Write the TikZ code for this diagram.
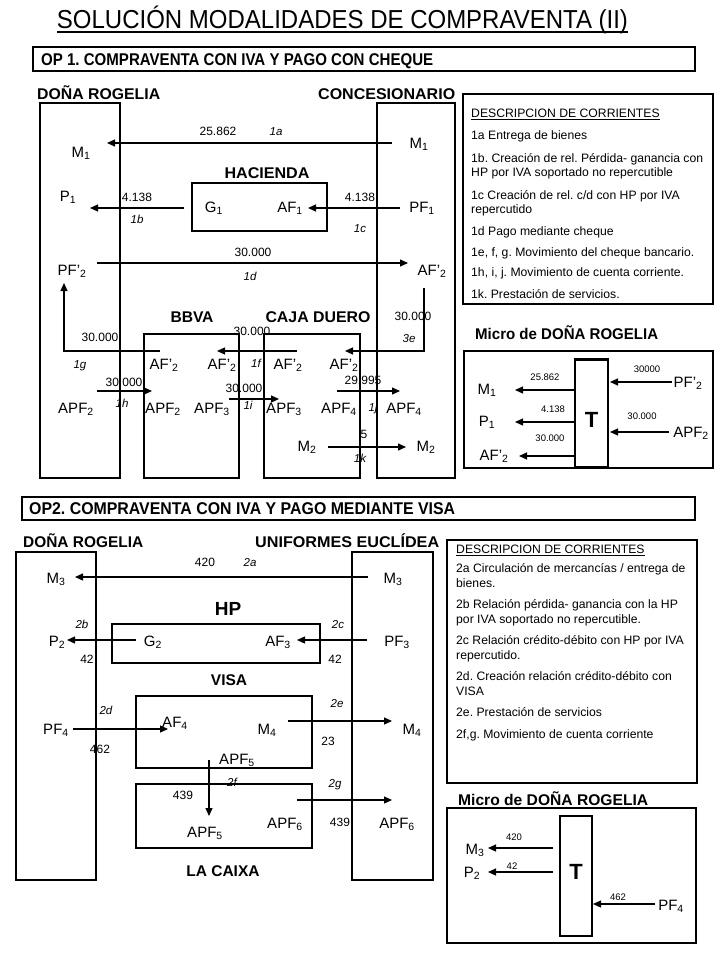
\documentclass[tikz,border=0pt]{standalone}
\usepackage{fontspec}
\setmainfont{Liberation Sans}
\usepackage{graphicx}
\usetikzlibrary{calc,arrows.meta}
\frenchspacing
\newcommand\fitw[2]{\resizebox{#1pt}{\height}{#2}}
\newcommand\sbs[1]{\textsubscript{#1}}
\tikzset{
 bigbox/.style={draw, line width=2.8pt, inner sep=0pt, outer sep=0pt},
 banner/.style={draw, line width=2.2pt, inner sep=0pt, outer sep=0pt, anchor=north west},
 lab/.style={font=\fontsize{15}{15}\selectfont, inner sep=0pt, text height=10.7pt, text depth=0pt},
 num/.style={font=\fontsize{12}{12}\selectfont, inner sep=0pt, text height=8.6pt, text depth=0pt},
 tag/.style={font=\fontsize{11.5}{11.5}\selectfont\itshape, inner sep=0pt, text height=8.2pt, text depth=0pt},
 hd/.style={font=\fontsize{15.5}{15.5}\selectfont\bfseries, inner sep=0pt, text height=11.1pt, text depth=0pt},
 bhd/.style={font=\fontsize{17}{17}\selectfont\bfseries, inner sep=0pt, text height=12.2pt, text depth=0pt, anchor=west},
 sml/.style={font=\fontsize{9.5}{9.5}\selectfont, inner sep=0pt, text height=6.8pt, text depth=0pt},
 dline/.style={font=\fontsize{12.2}{12.2}\selectfont\frenchspacing, inner sep=0pt, text height=8.8pt, text depth=0pt, anchor=west},
 bigT/.style={font=\fontsize{22}{22}\selectfont\bfseries, inner sep=0pt, text height=15.8pt, text depth=0pt},
 flow/.style={line width=1.2pt, -{Triangle[length=8pt,width=7pt]}},
}
\begin{document}
\begin{tikzpicture}[x=1pt,y=-1pt]
\useasboundingbox[fill=white] (0,0) rectangle (720,960);

% ---------- title
\node[font=\fontsize{26}{26}\selectfont, inner sep=0pt, text height=18.6pt, text depth=0pt] (title) at (342.5,19.5) {\fitw{571}{SOLUCIÓN MODALIDADES DE COMPRAVENTA (II)}};
\draw[line width=1.2pt] ([yshift=-3pt]title.south west) -- ([yshift=-3pt]title.south east);

% ---------- OP1 banner
\node[banner, minimum width=662pt, minimum height=24pt] (op1box) at (33,47) {};
\node[bhd] (op1t) at (41,59) {\fitw{392}{OP 1. COMPRAVENTA CON IVA Y PAGO CON CHEQUE}};

\node[hd, anchor=west] (drA) at (37,94) {\fitw{123}{DOÑA ROGELIA}};
\node[hd, anchor=west] (concA) at (318,94) {\fitw{137}{CONCESIONARIO}};

\node[bigbox, minimum width=80pt, minimum height=375pt] (drboxA) at (80,290.5) {};
\node[bigbox, minimum width=78pt, minimum height=375pt] (concbox) at (416,290.5) {};

\node[lab] (m1l) at (81,152) {M\sbs{1}};
\node[lab] (m1r) at (419,143) {M\sbs{1}};
\draw[flow] ($(m1r)+(-27,0)$) -- ($(m1l)+(26,-9)$);
\node[num] (n1a) at (218,131) {25.862};
\node[tag] (t1a) at (276,131) {1a};

\node[hd] (hac) at (267,173) {\fitw{85}{HACIENDA}};
\node[bigbox, minimum width=135pt, minimum height=48pt] (hacbox) at (259.5,207) {};
\node[lab] (g1) at (214,207) {G\sbs{1}};
\node[lab] (af1) at (290,207) {AF\sbs{1}};
\node[lab] (p1l) at (68,196) {P\sbs{1}};
\node[lab] (pf1) at (422,207) {PF\sbs{1}};
\draw[flow] ($(g1)+(-30,1)$) -- ($(p1l)+(22,12)$);
\draw[flow] ($(pf1)+(-22,1)$) -- ($(af1)+(18,1)$);
\node[num] (n1b) at (137,197) {4.138};
\node[tag] (t1b) at (137,219) {1b};
\node[num] (n1c) at (360,197) {4.138};
\node[tag] (t1c) at (360,228) {1c};

\node[lab] (pf2l) at (72,270) {PF’\sbs{2}};
\node[lab] (af2r) at (432,270) {AF’\sbs{2}};
\draw[flow] ($(pf2l)+(25,-7)$) -- ($(af2r)+(-24,-7)$);
\node[num] (n1d) at (253,252) {30.000};
\node[tag] (t1d) at (250,276) {1d};

\node[hd] (bbva) at (192,317) {\fitw{43}{BBVA}};
\node[hd] (cajad) at (318,317) {\fitw{105}{CAJA DUERO}};
\node[bigbox, minimum width=95pt, minimum height=144pt] (bbvabox) at (191.5,406) {};
\node[bigbox, minimum width=96pt, minimum height=144pt] (cdbox) at (312,406) {};

\node[lab] (af2a) at (164,364) {AF’\sbs{2}};
\node[lab] (af2b) at (222,364) {AF’\sbs{2}};
\node[lab] (af2c) at (288,364) {AF’\sbs{2}};
\node[lab] (af2d) at (344,364) {AF’\sbs{2}};

\draw[flow] ($(af2r)+(-8,18)$) |- ($(af2d)+(1,-13)$);
\node[num] (n3e) at (413,316) {30.000};
\node[tag] (t3e) at (409,338) {3e};
\draw[flow] ($(af2c)+(9,-13)$) -- ($(af2b)+(-5,-13)$);
\node[num] (n1f) at (252,331) {30.000};
\node[tag] (t1f) at (256,363) {1f};
\draw[flow] ($(af2a)+(-4,-13)$) -| ($(pf2l)+(-8,13)$);
\node[num] (n1g) at (100,337) {30.000};
\node[tag] (t1g) at (80,364) {1g};

\node[lab] (apf2l) at (76,408) {APF\sbs{2}};
\node[lab] (apf2b) at (163,408) {APF\sbs{2}};
\node[lab] (apf3b) at (212,408) {APF\sbs{3}};
\node[lab] (apf3c) at (284,408) {APF\sbs{3}};
\node[lab] (apf4c) at (339,408) {APF\sbs{4}};
\node[lab] (apf4r) at (404,408) {APF\sbs{4}};
\draw[flow] ($(apf2l)+(21,-17)$) -- ($(apf2b)+(-11,-17)$);
\node[num] (n1h) at (124,382) {30.000};
\node[tag] (t1h) at (122,403) {1h};
\draw[flow] ($(apf3b)+(17,-9)$) -- ($(apf3c)+(-5,-9)$);
\node[num] (n1i) at (244,388) {30.000};
\node[tag] (t1i) at (248,405) {1i};
\draw[flow] ($(apf4c)+(-2,-17)$) -- ($(apf4r)+(-4,-17)$);
\node[num] (n1j) at (363,380) {29.995};
\node[tag] (t1j) at (373,407) {1j};

\node[lab] (m2c) at (307,446) {M\sbs{2}};
\node[lab] (m2r) at (426,446) {M\sbs{2}};
\draw[flow] ($(m2c)+(21,1)$) -- ($(m2r)+(-20,1)$);
\node[num] (n1k) at (364,434) {5};
\node[tag] (t1k) at (360,458) {1k};

% ---------- description 1
\node[bigbox, anchor=north west, minimum width=250pt, minimum height=210pt] (desc1) at (463,94) {};
\node[dline] (d1h) at (471,113) {\underline{DESCRIPCION DE CORRIENTES}};
\node[dline] (d1a) at (471,135) {1a Entrega de bienes};
\node[dline] (d1b) at (471,158) {1b. Creación de rel. Pérdida- ganancia con};
\node[dline] (d1b2) at (471,172) {HP por IVA soportado no repercutible};
\node[dline] (d1c) at (471,195) {1c Creación de rel. c/d con HP por IVA};
\node[dline] (d1c2) at (471,209) {repercutido};
\node[dline] (d1d) at (471,231) {1d Pago mediante cheque};
\node[dline] (d1e) at (471,252) {1e, f, g. Movimiento del cheque bancario.};
\node[dline] (d1f) at (471,272) {1h, i, j. Movimiento de cuenta corriente.};
\node[dline] (d1g) at (471,294) {1k. Prestación de servicios.};

% ---------- micro 1
\node[hd, anchor=west] (mic1) at (475,334) {\fitw{183}{Micro de DOÑA ROGELIA}};
\node[bigbox, anchor=north west, minimum width=249pt, minimum height=117pt] (mic1box) at (464,351) {};
\node[bigbox, minimum width=33pt, minimum height=108pt] (tbox1) at (591.5,413.5) {};
\node[bigT] (tlab1) at (591.5,420) {T};
\node[lab] (m1m) at (487,389) {M\sbs{1}};
\node[lab] (p1m) at (487,421) {P\sbs{1}};
\node[lab] (af2m) at (494,455) {AF’\sbs{2}};
\node[lab] (pf2m) at (688,382) {PF’\sbs{2}};
\node[lab] (apf2m) at (691,432) {APF\sbs{2}};
\draw[flow] ($(tbox1)+(-16.5,-23.5)$) -- ($(m1m)+(28,1)$);
\draw[flow] ($(tbox1)+(-16.5,8.5)$) -- ($(p1m)+(28,1)$);
\draw[flow] ($(tbox1)+(-16.5,42.5)$) -- ($(af2m)+(25,1)$);
\draw[flow] ($(pf2m)+(-16,0)$) -- ($(tbox1)+(18.5,-31.5)$);
\draw[flow] ($(apf2m)+(-22,0)$) -- ($(tbox1)+(18.5,18.5)$);
\node[sml] (nm1) at (545,377) {25.862};
\node[sml] (nm2) at (553,409) {4.138};
\node[sml] (nm3) at (550,438) {30.000};
\node[sml] (nm4) at (647,369) {30000};
\node[sml] (nm5) at (642,416) {30.000};

% ---------- OP2 banner
\node[banner, minimum width=673pt, minimum height=23pt] (op2box) at (22,497) {};
\node[bhd] (op2t) at (29,508.5) {\fitw{426}{OP2. COMPRAVENTA CON IVA Y PAGO MEDIANTE VISA}};

\node[hd, anchor=west] (drB) at (23,542) {\fitw{120}{DOÑA ROGELIA}};
\node[hd, anchor=west] (ueB) at (255,542) {\fitw{184}{UNIFORMES EUCLÍDEA}};
\node[bigbox, minimum width=80pt, minimum height=328pt] (drboxB) at (56,716) {};
\node[bigbox, minimum width=81pt, minimum height=328pt] (uebox) at (392.5,716) {};

\node[lab] (m3l) at (56,578) {M\sbs{3}};
\node[lab] (m3r) at (393,578) {M\sbs{3}};
\draw[flow] ($(m3r)+(-25,-1)$) -- ($(m3l)+(19,-1)$);
\node[num] (n2a) at (205,562) {420};
\node[tag] (t2a) at (250,562) {2a};

\node[font=\fontsize{19}{19}\selectfont\bfseries, inner sep=0pt, text height=13.6pt, text depth=0pt] (hp) at (228,609) {HP};
\node[bigbox, minimum width=208pt, minimum height=39pt] (hpbox) at (216,643.5) {};
\node[lab] (g2) at (153,641) {G\sbs{2}};
\node[lab] (af3) at (278,641) {AF\sbs{3}};
\node[lab] (p2l) at (57,641) {P\sbs{2}};
\node[lab] (pf3) at (397,641) {PF\sbs{3}};
\draw[flow] ($(g2)+(-17,-1)$) -- ($(p2l)+(10,-1)$);
\draw[flow] ($(pf3)+(-30,-1)$) -- ($(af3)+(19,-1)$);
\node[tag] (t2b) at (82,624) {2b};
\node[tag] (t2c) at (338,624) {2c};
\node[num] (n2b) at (87,659) {42};
\node[num] (n2c) at (335,659) {42};

\node[hd] (visa) at (229,680) {VISA};
\node[bigbox, minimum width=176pt, minimum height=72pt] (visabox) at (224,732) {};
\node[bigbox, minimum width=176pt, minimum height=64pt] (caixabox) at (224,816) {};
\node[hd] (caixa) at (223,871) {LA CAIXA};

\node[lab] (pf4) at (56,729) {PF\sbs{4}};
\node[lab] (af4) at (175,722) {AF\sbs{4}};
\node[lab] (m4v) at (267,729) {M\sbs{4}};
\node[lab] (m4r) at (412,729) {M\sbs{4}};
\node[lab] (apf5v) at (237,759) {APF\sbs{5}};
\node[lab] (apf5c) at (205,832) {APF\sbs{5}};
\node[lab] (apf6c) at (285,823) {APF\sbs{6}};
\node[lab] (apf6r) at (397,823) {APF\sbs{6}};

\draw[flow] ($(pf4)+(17,0)$) -- ($(af4)+(-7,7)$);
\node[tag] (t2d) at (106,710) {2d};
\node[num] (n2d) at (100,749) {462};
\draw[flow] ($(m4v)+(21,-8)$) -- ($(m4r)+(-20,-8)$);
\node[tag] (t2e) at (337,703) {2e};
\node[num] (n2e) at (328,741) {23};
\draw[flow] ($(apf5v)+(-28,1)$) -- ($(apf5c)+(4,-16)$);
\node[tag] (t2f) at (232,782) {2f};
\node[num] (n2f) at (183,795) {439};
\draw[flow] ($(apf6c)+(12,-23)$) -- ($(apf6r)+(-5,-23)$);
\node[tag] (t2g) at (335,783) {2g};
\node[num] (n2g) at (340,822) {439};

% ---------- description 2
\node[bigbox, anchor=north west, minimum width=250pt, minimum height=243pt] (desc2) at (447,540) {};
\node[dline] (d2h) at (456,549) {\underline{DESCRIPCION DE CORRIENTES}};
\node[dline] (d2a) at (456,568) {2a Circulación de mercancías / entrega de};
\node[dline] (d2a2) at (456,583) {bienes.};
\node[dline] (d2b) at (456,604) {2b Relación pérdida- ganancia con la HP};
\node[dline] (d2b2) at (456,619) {por IVA soportado no repercutible.};
\node[dline] (d2c) at (456,640) {2c Relación crédito-débito con HP por IVA};
\node[dline] (d2c2) at (456,655) {repercutido.};
\node[dline] (d2d) at (456,676) {2d. Creación relación crédito-débito con};
\node[dline] (d2d2) at (456,691) {VISA};
\node[dline] (d2e) at (456,712) {2e. Prestación de servicios};
\node[dline] (d2f) at (456,734) {2f,g. Movimiento de cuenta corriente};

% ---------- micro 2
\node[hd, anchor=west] (mic2) at (458,800) {\fitw{190}{Micro de DOÑA ROGELIA}};
\node[bigbox, anchor=north west, minimum width=249pt, minimum height=135pt] (mic2box) at (447,808) {};
\node[bigbox, minimum width=32pt, minimum height=120pt] (tbox2) at (576,876) {};
\node[bigT] (tlab2) at (576,872) {T};
\node[lab] (m3m) at (475,849) {M\sbs{3}};
\node[lab] (p2m) at (472,872) {P\sbs{2}};
\node[lab] (pf4m) at (671,905) {PF\sbs{4}};
\draw[flow] ($(tbox2)+(-23,-28)$) -- ($(m3m)+(13,-1)$);
\draw[flow] ($(tbox2)+(-23,-4)$) -- ($(p2m)+(16,0)$);
\draw[flow] ($(pf4m)+(-16,-1)$) -- ($(tbox2)+(17,28)$);
\node[sml] (nm6) at (514,837) {420};
\node[sml] (nm7) at (512,866) {42};
\node[sml] (nm8) at (618,897) {462};
\end{tikzpicture}
\end{document}
